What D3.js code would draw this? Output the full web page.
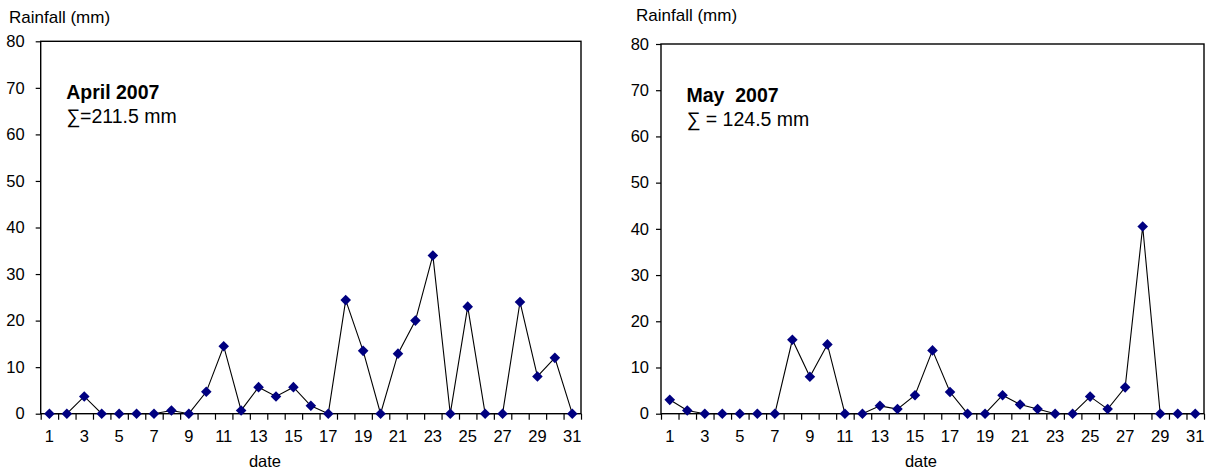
<!DOCTYPE html>
<html>
<head>
<meta charset="utf-8">
<script src="https://cdn.jsdelivr.net/npm/d3@7"></script>
<style>
body { margin: 0; background: #fff; }
svg { font-family: "Liberation Sans", Arial, sans-serif; }
</style>
</head>
<body>
<div id="chart"></div>
<script>
// daily rainfall (mm)
var days = d3.range(1, 32);
var aprilRain = [0, 0, 3.7, 0, 0, 0, 0, 0.7, 0, 4.7, 14.5, 0.7, 5.7, 3.7, 5.7, 1.7, 0,
    24.4, 13.5, 0, 12.9, 20, 34, 0, 23, 0, 0, 24, 8, 12, 0];
var mayRain = [3, 0.7, 0, 0, 0, 0, 0, 16, 8, 15, 0, 0, 1.7, 1, 4, 13.7, 4.7, 0,
    0, 4, 2, 1, 0, 0, 3.7, 1, 5.7, 40.5, 0, 0, 0];
var yTicks = [0, 10, 20, 30, 40, 50, 60, 70, 80];
var xLabels = days.filter(function(d) { return d % 2 == 1; });

var width = 1207, height = 470;

var svg = d3.select("#chart").append("svg")
    .attr("width", width)
    .attr("height", height);

var panels = [
    {title: "April 2007", total: "\u2211=211.5 mm", values: aprilRain,
     left: 40.7, right: 581, top: 41.3, bottom: 413.7, pad: 11,
     ylabX: 9, ylabY: 23, dateX: 265},
    {title: "May  2007", total: "\u2211 = 124.5 mm", values: mayRain,
     left: 661, right: 1204, top: 44, bottom: 413.7, pad: 7,
     ylabX: 636, ylabY: 20.5, dateX: 921}
];

panels.forEach(drawPanel);

function drawPanel(p) {
    var g = svg.append("g");

    var x = d3.scaleBand().domain(days).range([p.left, p.right]);
    var xEdge = d3.scaleLinear().domain([0, 31]).range([p.left, p.right]);
    var y = d3.scaleLinear().domain([0, 80]).range([p.bottom, p.top]);

    // y axis
    var yAxis = g.append("g")
        .attr("transform", "translate(" + p.left + ",0)")
        .call(d3.axisLeft(y).tickValues(yTicks).tickSize(5).tickPadding(p.pad));
    yAxis.select(".domain").remove();
    yAxis.selectAll("line").attr("stroke", "#000").attr("stroke-width", 1.2);
    yAxis.selectAll("text").attr("font-size", 16.5).attr("fill", "#000")
        .attr("font-family", "Liberation Sans, Arial, sans-serif");

    // x tick marks between categories
    var xTickAxis = g.append("g")
        .attr("transform", "translate(0," + p.bottom + ")")
        .call(d3.axisBottom(xEdge).tickValues(d3.range(0, 32)).tickSize(6).tickFormat(""));
    xTickAxis.select(".domain").remove();
    xTickAxis.selectAll("line").attr("stroke", "#000").attr("stroke-width", 1.2);

    // x labels on odd days
    var xLabAxis = g.append("g")
        .attr("transform", "translate(0," + p.bottom + ")")
        .call(d3.axisBottom(x).tickValues(xLabels).tickSize(0).tickPadding(17));
    xLabAxis.select(".domain").remove();
    xLabAxis.selectAll("text").attr("font-size", 16.5).attr("fill", "#000")
        .attr("font-family", "Liberation Sans, Arial, sans-serif");

    // plot frame
    g.append("rect")
        .attr("x", p.left)
        .attr("y", p.top)
        .attr("width", p.right - p.left)
        .attr("height", p.bottom - p.top)
        .attr("fill", "none")
        .attr("stroke", "#000")
        .attr("stroke-width", 1.4);

    var pts = days.map(function(d, i) { return {day: d, v: p.values[i]}; });

    var line = d3.line()
        .x(function(d) { return x(d.day) + x.bandwidth() / 2; })
        .y(function(d) { return y(d.v); });

    g.append("path")
        .datum(pts)
        .attr("d", line)
        .attr("fill", "none")
        .attr("stroke", "#000")
        .attr("stroke-width", 1.1);

    g.selectAll(".pt")
        .data(pts)
        .enter().append("path")
        .attr("class", "pt")
        .attr("d", d3.symbol().type(d3.symbolSquare).size(56))
        .attr("transform", function(d) {
            return "translate(" + (x(d.day) + x.bandwidth() / 2) + "," + y(d.v) + ") rotate(45)";
        })
        .attr("fill", "#000080");

    g.append("text")
        .attr("x", p.ylabX)
        .attr("y", p.ylabY)
        .attr("font-size", 17)
        .text("Rainfall (mm)");

    g.append("text")
        .attr("x", p.dateX)
        .attr("y", 467)
        .attr("text-anchor", "middle")
        .attr("font-size", 16.5)
        .text("date");

    g.append("text")
        .attr("x", p.left + 25.5)
        .attr("y", p.top + 57.5)
        .attr("font-size", 19.5)
        .attr("font-weight", "bold")
        .style("white-space", "pre")
        .text(p.title);

    g.append("text")
        .attr("x", p.left + 25.5)
        .attr("y", p.top + 81.5)
        .attr("font-size", 19.5)
        .style("white-space", "pre")
        .text(p.total);
}
</script>
</body>
</html>
